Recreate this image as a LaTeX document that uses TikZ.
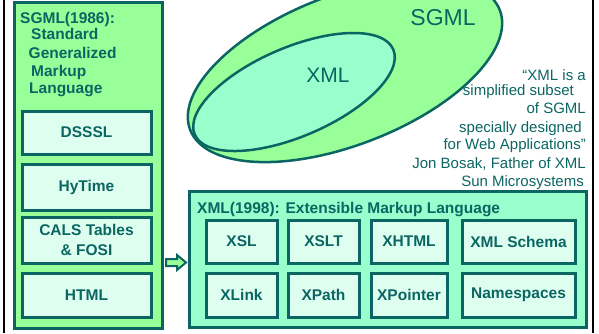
\documentclass[tikz,border=0pt]{standalone}
\usepackage{fontspec}
\setmainfont{Liberation Sans}
\usetikzlibrary{shapes.geometric}
\definecolor{tealdark}{HTML}{0B6663}
\definecolor{sgmlgreen}{HTML}{99FF99}
\definecolor{xmlgreen}{HTML}{99FFCC}
\definecolor{boxfill}{HTML}{DEFFEF}
\begin{document}
\begin{tikzpicture}[x=1pt,y=-1pt,
  outerbox/.style={draw=tealdark, line width=3pt, inner sep=0pt},
  itembox/.style={draw=tealdark, line width=3pt, fill=boxfill, inner sep=0pt,
    font=\fontsize{15.5}{20}\selectfont\bfseries, text=tealdark, align=center},
  lbl/.style={inner sep=0pt, text=tealdark, font=\fontsize{15.5}{18}\selectfont\bfseries},
  quote/.style={inner sep=0pt, text=tealdark, font=\fontsize{15}{18}\selectfont, anchor=base east},
  ell/.style={ellipse, draw=tealdark, line width=2.5pt, inner sep=0pt}
]
\useasboundingbox (0,0) rectangle (599,333);
\clip (0,0) rectangle (599,333);
\fill[white] (0,0) rectangle (599,333);

% frame side lines
\draw[line width=2.5pt, black] (4,0) -- (4,333);
\draw[line width=2.5pt, black] (593,0) -- (593,333);

% ellipses
\node[ell, fill=sgmlgreen, minimum width=332pt, minimum height=150pt, rotate=21.15] (sgmlell) at (345,70) {};
\node[ell, fill=xmlgreen, minimum width=216pt, minimum height=89pt, rotate=23.2] (xmlell) at (294,92) {};
\node[inner sep=0pt, text=tealdark, font=\fontsize{23}{27}\selectfont] (sgmllbl) at (443,18) {SGML};
\node[inner sep=0pt, text=tealdark, font=\fontsize{21}{25}\selectfont] (xmllbl) at (328,75) {XML};

% quote
\node[quote] (q1) at (586,80) {“XML is a};
\node[quote] (q2) at (586,95) {simplified subset\rule{12pt}{0pt}};
\node[quote] (q3) at (586,113) {of SGML};
\node[quote] (q4) at (586,132) {specially designed\rule{4pt}{0pt}};
\node[quote] (q5) at (586,149) {for Web Applications”};
\node[quote] (q6) at (586,168) {Jon Bosak, Father of XML};
\node[quote] (q7) at (586,186) {Sun Microsystems\rule{2pt}{0pt}};

% SGML box
\node[outerbox, fill=sgmlgreen, minimum width=148pt, minimum height=326pt] (sgmlbox) at (88,165) {};
\node[lbl, anchor=base west] (s1) at (20,23) {SGML(1986):};
\node[lbl, anchor=base west] (s2) at (31,39) {Standard};
\node[lbl, anchor=base west] (s3) at (28.5,58) {Generalized};
\node[lbl, anchor=base west] (s4) at (31,76) {Markup};
\node[lbl, anchor=base west] (s5) at (29,93) {Language};

\node[itembox, minimum width=129pt, minimum height=43pt] (dsssl) at (86.5,132.5) {DSSSL};
\node[itembox, minimum width=129pt, minimum height=46pt] (hytime) at (86.5,187) {HyTime};
\node[itembox, minimum width=129pt, minimum height=46pt] (cals) at (86.5,240) {CALS Tables\\ \& FOSI};
\node[itembox, minimum width=129pt, minimum height=44pt] (html) at (86.5,295) {HTML};

% arrow
\draw[draw=tealdark, fill=sgmlgreen, line width=2pt, line join=miter]
  (166,259) -- (177,259) -- (177,255) -- (186,262.5) -- (177,270) -- (177,266) -- (166,266) -- cycle;

% XML box
\node[outerbox, fill=xmlgreen, minimum width=397pt, minimum height=136pt] (xmlbox) at (387.5,259) {};
\node[lbl, anchor=base west] (xtitle) at (197,213) {XML(1998): Extensible Markup Language};

\node[itembox, minimum width=71pt, minimum height=43pt] (xsl) at (241.5,241.5) {XSL};
\node[itembox, minimum width=71pt, minimum height=43pt] (xslt) at (323.5,241.5) {XSLT};
\node[itembox, minimum width=76pt, minimum height=43pt] (xhtml) at (409,241.5) {XHTML};
\node[itembox, minimum width=113pt, minimum height=43pt] (schema) at (518.5,241.5) {XML Schema};
\node[itembox, minimum width=71pt, minimum height=44pt] (xlink) at (241.5,295) {XLink};
\node[itembox, minimum width=71pt, minimum height=44pt] (xpath) at (323.5,295) {XPath};
\node[itembox, minimum width=76pt, minimum height=44pt] (xpointer) at (409,295) {XPointer};
\node[itembox, minimum width=113pt, minimum height=44pt] (names) at (518.5,295) {Namespaces};
\end{tikzpicture}
\end{document}
